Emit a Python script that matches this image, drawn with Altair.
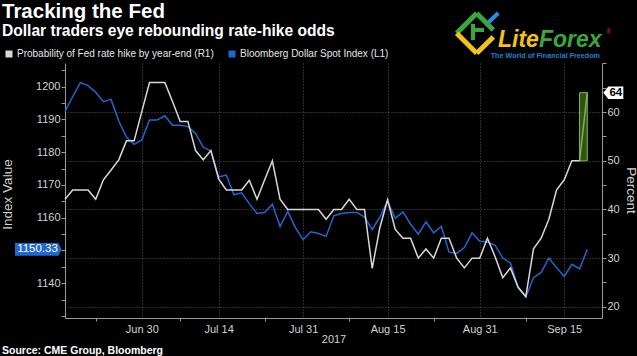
import altair as alt
import pandas as pd

# ---------------- data ----------------
dates = pd.bdate_range("2017-06-16", "2017-09-20")  # weekday axis (Bloomberg style)

dollar_index = [
    1192.4, 1196.9, 1201.2, 1200.3, 1198.3, 1195.4, 1196.1, 1189.5, 1184.6, 1182.4,
    1183.7, 1189.8, 1189.8, 1191.1, 1188.2, 1188.2, 1187.8, 1185.7, 1181.5, 1180.3,
    1172.4, 1173.0, 1167.0, 1167.6, 1164.3, 1161.3, 1161.6, 1164.1, 1157.3, 1161.9,
    1157.0, 1153.3, 1155.7, 1155.2, 1154.3, 1160.6, 1161.3, 1161.6, 1161.6, 1160.2,
    1156.4, 1160.2, 1165.1, 1159.8, 1161.8, 1158.0, 1155.0, 1158.7, 1155.4, 1157.4,
    1149.5, 1149.1, 1150.9, 1155.4, 1152.8, 1152.6, 1151.6, 1147.7, 1146.2, 1138.7,
    1135.8, 1141.7, 1143.3, 1147.7, 1144.8, 1142.1, 1145.8, 1144.4, 1150.33,
]

hike_prob = [
    42.1, 44.0, 44.0, 44.0, 42.1, 46.1, 48.1, 50.2, 54.1, 54.1,
    60.1, 66.1, 66.1, 66.1, 62.2, 58.1, 58.1, 52.1, 50.2, 52.1,
    46.3, 44.0, 44.0, 44.0, 46.0, 42.1, 46.1, 50.0, 42.1, 40.0,
    40.0, 40.0, 40.0, 40.0, 38.0, 40.0, 40.0, 42.1, 40.0, 40.0,
    27.9, 36.3, 42.0, 35.9, 34.1, 34.1, 30.0, 31.9, 30.0, 34.1,
    34.1, 30.0, 28.0, 30.0, 30.0, 34.1, 30.3, 26.0, 28.0, 24.0,
    22.1, 31.9, 34.1, 38.0, 44.0, 46.1, 50.0, 50.0, 64.0,
]

tick_dates = ["2017-06-30", "2017-07-14", "2017-07-31", "2017-08-15", "2017-08-31", "2017-09-15"]
tick_labels = ["Jun 30", "Jul 14", "Jul 31", "Aug 15", "Aug 31", "Sep 15"]
minor_dates = ["2017-06-22", "2017-07-07", "2017-07-24", "2017-08-08", "2017-08-23", "2017-09-08"]

prob_name = "Probability of Fed rate hike by year-end (R1)"
bbg_name = "Bloomberg Dollar Spot Index (L1)"
series_names = [prob_name, bbg_name]

df = pd.DataFrame({
    "idx": list(range(len(dates))),
    "date": dates.strftime("%Y-%m-%d"),
    "blue": dollar_index,
    "white": hike_prob,
})
pos = {d: i for i, d in enumerate(df["date"])}
major_idx = [pos[d] for d in tick_dates]
minor_idx = [pos[d] for d in minor_dates]

# ---------------- style ----------------
W, H = 537, 255
FONT = "Liberation Sans"
BLUE = "#2167d2"
WHITE = "#d8d8d8"
AXC = "#9a9a9a"
LBL = "#d2d2d2"
GRID = "#5a5a5a"

major_test = "indexof(" + str(major_idx) + ", datum.value) >= 0"
label_expr = " : ".join(
    f"datum.value == {i} ? '{t}'" for i, t in zip(major_idx, tick_labels)
) + " : ''"

xscale = alt.Scale(domain=[0, 69.92], nice=False, zero=False)
xaxis = alt.Axis(
    values=sorted(major_idx + minor_idx), labelExpr=label_expr,
    grid=True, gridColor=GRID, gridDash=[1, 2],
    gridOpacity={"condition": {"test": major_test, "value": 1}, "value": 0},
    tickOpacity={"condition": {"test": major_test, "value": 0}, "value": 1},
    tickSize=3, tickColor=AXC, domainColor=AXC,
    labelColor=LBL, labelFont=FONT, labelFontSize=11, labelPadding=2,
    title="2017", titleColor=LBL, titleFont=FONT, titleFontSize=11,
    titleFontWeight="normal", titleY=21, titleBaseline="middle",
)
X = alt.X("idx:Q", scale=xscale, axis=xaxis)

lscale = alt.Scale(domain=[1129.4, 1207.2], nice=False, zero=False)
laxis = alt.Axis(
    orient="left", values=list(range(1130, 1206, 5)), format="d",
    labelExpr="datum.value >= 1140 && datum.value % 10 == 0 && datum.value != 1150 ? datum.label : ''",
    grid=False, tickSize=4, tickColor=AXC, domainColor=AXC,
    labelColor=LBL, labelFont=FONT, labelFontSize=11, labelPadding=1,
    title="Index Value", titleColor=LBL, titleFont=FONT, titleFontSize=13.5,
    titleFontWeight="normal", titleX=-58, titleY=131, titleAngle=270,
    titleBaseline="middle", titleAlign="center",
)
YL = alt.Y("blue:Q", scale=lscale, axis=laxis)

rscale = alt.Scale(domain=[17.7, 70.1], nice=False, zero=False)
raxis = alt.Axis(
    orient="right", values=list(range(20, 71, 5)),
    labelExpr="datum.value % 10 == 0 && datum.value <= 60 ? datum.label : ''",
    grid=True, gridColor=GRID, gridDash=[1, 2],
    gridOpacity={"condition": {"test": "datum.value % 10 == 0 && datum.value <= 60", "value": 1}, "value": 0},
    tickSize=4, tickColor=AXC, domainColor=AXC,
    labelColor=LBL, labelFont=FONT, labelFontSize=11, labelPadding=1,
    title="Percent", titleColor=LBL, titleFont=FONT, titleFontSize=13.5,
    titleFontWeight="normal", titleX=28, titleY=127, titleAngle=90,
    titleBaseline="middle", titleAlign="center",
)
YR = alt.Y("white:Q", scale=rscale, axis=raxis)

base = alt.Chart(df)

# left (index) group
blue_line = base.mark_line(strokeWidth=1.5, color=BLUE).encode(x=X, y=YL)
last = df.tail(1)
blue_tag = alt.Chart(last).mark_point(
    shape="M-1,-0.27L0.86,-0.27L1,0L0.86,0.27L-1,0.27Z", filled=True,
    size=2171, color=BLUE, opacity=1, strokeWidth=0,
).encode(x=alt.value(-26.7), y=YL)
blue_tag_txt = alt.Chart(last).mark_text(
    font=FONT, fontSize=11.5, color="white", align="center", baseline="middle",
).encode(x=alt.value(-27.5), y=YL, text=alt.Text("blue:Q", format=".2f"))
left = alt.layer(blue_line, blue_tag, blue_tag_txt)

# right (percent) group
white_line = base.mark_line(strokeWidth=1.5, color=WHITE).encode(x=X, y=YR)
hl = pd.DataFrame({
    "idx": [df["idx"].iloc[-2]], "idx2": [df["idx"].iloc[-1]],
    "white": [df["white"].iloc[-2]], "white2": [df["white"].iloc[-1]],
})
green_box = alt.Chart(hl).mark_rect(
    fill="#4f8a1c", fillOpacity=0.6, stroke="#7cc12f", strokeWidth=1,
).encode(x=X, x2="idx2:Q", y=YR, y2="white2:Q")
white_tag = alt.Chart(last).mark_point(
    shape="M-1,0L-0.5,-0.62L1,-0.62L1,0.62L-0.5,0.62Z", filled=True,
    size=400, color="white", opacity=1, strokeWidth=0,
).encode(x=alt.value(548.3), y=YR)
white_tag_txt = alt.Chart(last).mark_text(
    font=FONT, fontSize=11.5, fontWeight="bold", color="black", align="center", baseline="middle",
).encode(x=alt.value(550.8), y=YR, text=alt.Text("white:Q", format="d"))
right = alt.layer(white_line, green_box, white_tag, white_tag_txt)

# legend (invisible squares, legend only)
leg_df = pd.DataFrame({"series": series_names})
legend_layer = alt.Chart(leg_df).mark_square(filled=True, size=0, opacity=0).encode(
    x=alt.value(0), y=alt.value(0),
    color=alt.Color(
        "series:N",
        scale=alt.Scale(domain=series_names, range=[WHITE, BLUE]),
        legend=alt.Legend(
            orient="none", legendX=-61, legendY=-14, direction="horizontal",
            title=None, symbolType="square", symbolSize=49, symbolStrokeWidth=0,
            symbolOpacity=1, labelLimit=400,
            labelFont=FONT, labelFontSize=10, labelColor="#e6e6e6", labelOffset=3,
            columnPadding=13, padding=0,
        ),
    ),
)

# ---------------- texts / decoration ----------------
one = pd.DataFrame({"a": [0]})


def txt(s, x, y, size, color="white", weight="normal", style="normal", align="left"):
    return alt.Chart(one).mark_text(
        text=s, font=FONT, fontSize=size, fontWeight=weight, fontStyle=style,
        color=color, align=align, baseline="alphabetic",
    ).encode(x=alt.value(x), y=alt.value(y))


def seg(x1, y1, x2, y2, color, w=5):
    return alt.Chart(one).mark_rule(color=color, strokeWidth=w, strokeCap="butt").encode(
        x=alt.value(x1 - 65), y=alt.value(y1 - 63), x2=alt.value(x2 - 65), y2=alt.value(y2 - 63))


texts = [
    txt("Tracking the Fed", -63, -44.6, 20.5, weight="bold"),
    txt("Dollar traders eye rebounding rate-hike odds", -63, -27.3, 15.6, weight="bold"),
    txt("Source: CME Group, Bloomberg", -63, 290.5, 10.5, weight="bold"),
    txt("Lite", 433, -16.3, 23, color="#f4c21d", weight="bold", style="italic"),
    txt("Forex", 474, -16.3, 23, color="#3aa73a", weight="bold", style="italic"),
    txt("®", 541, -29, 7, color="#d23030"),
    txt("The World of Financial Freedom", 425.7, -5, 7.2, color="#1f80d8", weight="bold"),
]
logo = [
    seg(456.7, 33.3, 476.7, 13.3, "#3aa73a"),
    seg(476.7, 13.3, 493.3, 30.0, "#3aa73a"),
    seg(473, 24, 473, 40, "#3aa73a", 4),
    seg(473, 30, 484, 30, "#3aa73a", 4),
    seg(456.7, 33.3, 476.7, 53.3, "#f4c21d"),
    seg(476.7, 53.3, 493.3, 37.0, "#f4c21d"),
    seg(488.3, 22.5, 498.3, 13.0, "#2a8ee0", 4),
]

chart = alt.layer(left, right, legend_layer, *texts, *logo).resolve_scale(y="independent").properties(
    width=W, height=H,
    autosize=alt.AutoSizeParams(type="none"),
    padding={"left": 65, "top": 63, "right": 35, "bottom": 38},
    background="black",
).configure_view(stroke=None)

chart.save("out.html", embed_options={"renderer": "svg", "actions": False})
